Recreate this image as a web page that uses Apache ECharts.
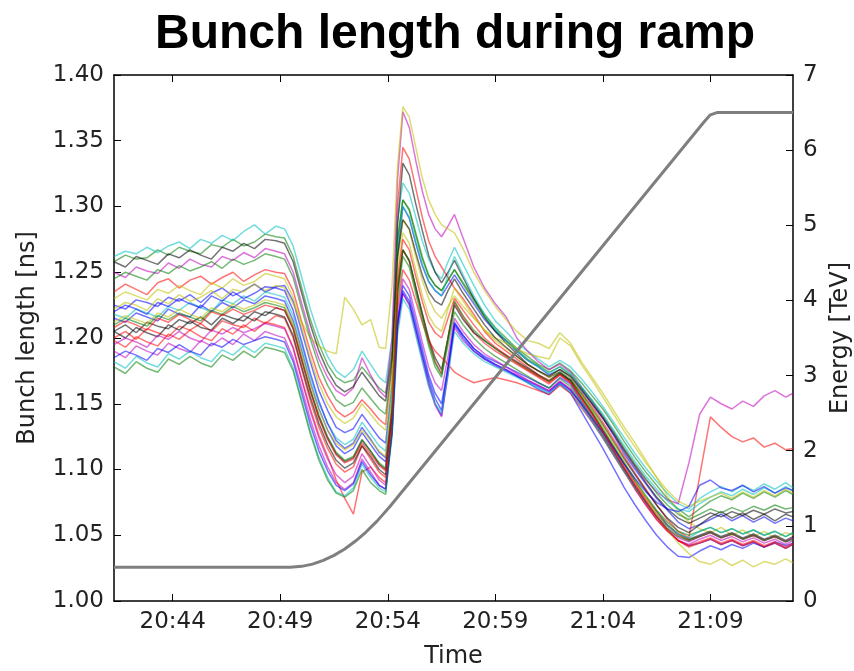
<!DOCTYPE html>
<html>
<head>
<meta charset="utf-8">
<script src="https://cdn.jsdelivr.net/npm/echarts@6/dist/echarts.min.js"></script>
<style>html,body{margin:0;padding:0;background:#fff}#c{width:854px;height:671px}</style>
</head>
<body>
<div id="c"></div>
<script>
// time in minutes after 20:40
const times = [1.27,1.8,2.3,2.8,3.3,3.8,4.3,4.8,5.3,5.8,6.3,6.8,7.3,7.8,8.3,8.8,
  9.2,9.6,10.0,10.4,10.8,11.2,11.6,12.0,12.4,12.8,13.2,13.6,
  13.9,14.2,14.45,14.7,15.0,15.3,15.6,15.9,16.2,16.5,16.8,17.1,17.5,
  18.0,18.5,19.0,19.5,20.0,20.5,21.0,21.5,22.0,22.5,23.0,23.5,24.0,24.5,25.0,25.5,26.0,26.5,27.0,27.5,28.0,28.5,29.0,29.5,30.0,30.5,31.0,31.5,32.0,32.5,32.84];
const tickTimes = [4,9,14,19,24,29];
const tickLabels = ['20:44','20:49','20:54','20:59','21:04','21:09'];
const energyTimes = [1.27,9.45,10.0,10.5,11.0,11.5,12.0,12.5,13.0,13.5,14.1,28.7,29.0,29.3,32.84];
const energyValues = [0.45,0.45,0.461,0.491,0.540,0.607,0.693,0.798,0.921,1.063,1.258,6.375,6.47,6.5,6.5];

const s00 = [1.225,1.222,1.229,1.227,1.224,1.231,1.228,1.233,1.227,1.234,1.238,1.232,1.236,1.241,1.235,1.239,
 1.240,1.228,1.205,1.182,1.160,1.145,1.132,1.128,1.131,1.142,1.133,1.124,
 1.120,1.165,1.262,1.300,1.291,1.272,1.255,1.243,1.236,1.232,1.240,1.248,1.238,
 1.226,1.214,1.205,1.198,1.190,1.183,1.178,1.172,1.176,1.170,1.160,1.150,1.139,1.126,1.112,1.100,1.089,1.078,1.069,1.060,1.055,1.058,1.062,1.066,1.061,1.065,1.060,1.064,1.059,1.063,1.061];
const s01 = [1.258,1.263,1.260,1.261,1.267,1.263,1.269,1.266,1.264,1.271,1.269,1.275,1.270,1.273,1.279,1.277,
 1.276,1.262,1.238,1.214,1.195,1.180,1.170,1.166,1.168,1.178,1.170,1.162,
 1.158,1.190,1.275,1.305,1.298,1.280,1.262,1.248,1.240,1.236,1.244,1.252,1.242,
 1.230,1.218,1.208,1.200,1.192,1.186,1.180,1.176,1.181,1.175,1.166,1.156,1.146,1.134,1.121,1.109,1.098,1.088,1.078,1.070,1.064,1.070,1.076,1.080,1.077,1.082,1.078,1.083,1.079,1.084,1.081];
const s02 = [1.235,1.241,1.237,1.233,1.242,1.245,1.238,1.244,1.247,1.241,1.246,1.250,1.243,1.248,1.252,1.250,
 1.249,1.236,1.212,1.190,1.170,1.156,1.145,1.140,1.144,1.153,1.146,1.138,
 1.134,1.180,1.300,1.345,1.336,1.314,1.292,1.274,1.262,1.254,1.246,1.238,1.230,
 1.218,1.205,1.196,1.190,1.184,1.178,1.172,1.168,1.173,1.168,1.158,1.148,1.136,1.123,1.110,1.097,1.085,1.073,1.062,1.053,1.048,1.095,1.140,1.132,1.125,1.121,1.124,1.117,1.120,1.115,1.116];
const s03 = [1.262,1.266,1.264,1.269,1.265,1.270,1.273,1.268,1.275,1.272,1.278,1.274,1.281,1.286,1.279,1.285,
 1.283,1.270,1.246,1.222,1.202,1.186,1.175,1.170,1.176,1.190,1.180,1.170,
 1.166,1.200,1.290,1.318,1.310,1.292,1.274,1.260,1.250,1.245,1.258,1.269,1.256,
 1.240,1.225,1.213,1.205,1.196,1.190,1.184,1.178,1.183,1.178,1.169,1.159,1.148,1.136,1.124,1.112,1.101,1.091,1.082,1.074,1.070,1.078,1.083,1.087,1.083,1.088,1.084,1.089,1.085,1.090,1.086];
const s04 = [1.250,1.246,1.254,1.251,1.249,1.257,1.253,1.260,1.256,1.254,1.262,1.259,1.265,1.261,1.268,1.266,
 1.264,1.250,1.226,1.203,1.184,1.170,1.160,1.156,1.162,1.185,1.172,1.160,
 1.155,1.200,1.320,1.372,1.360,1.335,1.312,1.294,1.283,1.277,1.285,1.294,1.276,
 1.254,1.238,1.226,1.216,1.200,1.190,1.182,1.176,1.180,1.174,1.163,1.152,1.140,1.128,1.115,1.103,1.092,1.083,1.077,1.074,1.105,1.142,1.155,1.150,1.146,1.152,1.148,1.156,1.160,1.155,1.158];
const s05 = [1.222,1.227,1.225,1.221,1.230,1.226,1.233,1.228,1.231,1.236,1.230,1.237,1.235,1.241,1.236,1.240,
 1.238,1.226,1.212,1.200,1.194,1.190,1.188,1.231,1.222,1.210,1.214,1.193,
 1.192,1.240,1.330,1.376,1.368,1.345,1.322,1.305,1.294,1.286,1.283,1.280,1.268,
 1.250,1.236,1.224,1.214,1.205,1.198,1.196,1.192,1.204,1.196,1.182,1.170,1.158,1.145,1.132,1.120,1.107,1.094,1.080,1.068,1.060,1.055,1.052,1.056,1.050,1.054,1.049,1.053,1.048,1.052,1.050];
const s06 = [1.205,1.210,1.204,1.212,1.209,1.207,1.214,1.211,1.216,1.210,1.218,1.215,1.213,1.220,1.217,1.223,
 1.221,1.207,1.183,1.160,1.140,1.124,1.112,1.106,1.109,1.122,1.114,1.104,
 1.100,1.150,1.285,1.333,1.324,1.302,1.282,1.263,1.250,1.242,1.250,1.259,1.246,
 1.230,1.216,1.205,1.196,1.188,1.180,1.175,1.170,1.174,1.168,1.158,1.146,1.134,1.121,1.108,1.096,1.084,1.073,1.063,1.056,1.052,1.058,1.064,1.068,1.063,1.067,1.062,1.066,1.061,1.066,1.064];
const s07 = [1.215,1.212,1.219,1.216,1.213,1.222,1.218,1.216,1.225,1.220,1.227,1.223,1.229,1.226,1.232,1.230,
 1.228,1.213,1.190,1.166,1.146,1.130,1.118,1.112,1.116,1.128,1.119,1.110,
 1.106,1.140,1.210,1.234,1.226,1.206,1.186,1.166,1.150,1.141,1.175,1.211,1.202,
 1.192,1.186,1.182,1.178,1.174,1.170,1.166,1.162,1.170,1.165,1.152,1.140,1.128,1.114,1.100,1.087,1.075,1.064,1.054,1.046,1.042,1.044,1.047,1.043,1.046,1.042,1.045,1.041,1.044,1.040,1.043];
const s08 = [1.245,1.250,1.247,1.244,1.252,1.249,1.255,1.251,1.254,1.258,1.253,1.260,1.256,1.259,1.264,1.262,
 1.260,1.246,1.222,1.199,1.179,1.164,1.153,1.148,1.151,1.162,1.154,1.146,
 1.142,1.180,1.272,1.305,1.297,1.278,1.260,1.247,1.240,1.236,1.244,1.252,1.241,
 1.228,1.216,1.206,1.198,1.191,1.184,1.179,1.174,1.178,1.172,1.162,1.152,1.141,1.129,1.116,1.104,1.093,1.082,1.073,1.066,1.062,1.066,1.070,1.067,1.071,1.068,1.072,1.069,1.073,1.070,1.071];
const s09 = [1.200,1.205,1.199,1.207,1.204,1.201,1.209,1.206,1.211,1.205,1.213,1.210,1.208,1.215,1.211,1.217,
 1.215,1.200,1.176,1.152,1.132,1.116,1.104,1.098,1.102,1.118,1.108,1.098,
 1.094,1.140,1.235,1.267,1.258,1.238,1.218,1.198,1.182,1.173,1.200,1.227,1.216,
 1.204,1.196,1.190,1.185,1.180,1.175,1.170,1.165,1.172,1.166,1.154,1.142,1.129,1.116,1.102,1.089,1.077,1.066,1.057,1.050,1.046,1.049,1.052,1.048,1.051,1.047,1.050,1.046,1.049,1.045,1.048];
const s10 = [1.218,1.215,1.222,1.219,1.216,1.224,1.221,1.227,1.223,1.220,1.229,1.226,1.232,1.228,1.235,1.233,
 1.231,1.217,1.194,1.170,1.150,1.135,1.124,1.119,1.123,1.136,1.127,1.118,
 1.114,1.160,1.265,1.300,1.292,1.273,1.256,1.243,1.236,1.232,1.248,1.262,1.248,
 1.232,1.218,1.207,1.198,1.190,1.183,1.178,1.173,1.178,1.173,1.163,1.153,1.142,1.130,1.118,1.106,1.095,1.085,1.076,1.070,1.068,1.074,1.079,1.083,1.080,1.085,1.081,1.086,1.082,1.087,1.084];
const s11 = [1.190,1.185,1.194,1.190,1.187,1.196,1.192,1.189,1.198,1.194,1.200,1.195,1.203,1.198,1.205,1.202,
 1.200,1.185,1.162,1.138,1.118,1.102,1.090,1.085,1.090,1.108,1.098,1.088,
 1.085,1.130,1.205,1.234,1.225,1.204,1.184,1.164,1.149,1.140,1.172,1.208,1.198,
 1.190,1.184,1.180,1.176,1.172,1.168,1.164,1.160,1.167,1.161,1.149,1.137,1.124,1.111,1.098,1.085,1.073,1.062,1.053,1.046,1.043,1.047,1.050,1.046,1.049,1.045,1.048,1.044,1.047,1.043,1.046];
const s12 = [1.230,1.235,1.232,1.229,1.237,1.234,1.240,1.236,1.233,1.242,1.238,1.245,1.240,1.243,1.249,1.247,
 1.245,1.231,1.208,1.185,1.165,1.150,1.140,1.135,1.139,1.150,1.142,1.134,
 1.130,1.170,1.258,1.290,1.282,1.262,1.244,1.230,1.220,1.215,1.224,1.232,1.224,
 1.215,1.206,1.200,1.196,1.192,1.188,1.186,1.184,1.200,1.194,1.180,1.168,1.155,1.142,1.129,1.117,1.105,1.094,1.084,1.076,1.072,1.076,1.079,1.082,1.078,1.083,1.079,1.084,1.080,1.085,1.082];
const s13 = [1.205,1.200,1.208,1.204,1.201,1.210,1.206,1.213,1.208,1.206,1.215,1.211,1.217,1.213,1.220,1.218,
 1.216,1.202,1.178,1.155,1.135,1.119,1.107,1.101,1.105,1.118,1.110,1.100,
 1.096,1.142,1.236,1.267,1.259,1.239,1.219,1.200,1.185,1.176,1.200,1.225,1.214,
 1.204,1.198,1.192,1.187,1.182,1.177,1.172,1.167,1.173,1.167,1.155,1.143,1.130,1.117,1.104,1.091,1.079,1.068,1.058,1.051,1.047,1.050,1.053,1.049,1.052,1.048,1.051,1.047,1.050,1.046,1.049];
const s14 = [1.220,1.225,1.222,1.218,1.227,1.224,1.230,1.226,1.223,1.232,1.228,1.235,1.230,1.234,1.239,1.238,
 1.236,1.221,1.197,1.173,1.152,1.135,1.122,1.116,1.120,1.132,1.123,1.113,
 1.109,1.145,1.212,1.236,1.228,1.208,1.188,1.169,1.154,1.145,1.178,1.212,1.202,
 1.192,1.185,1.180,1.176,1.171,1.166,1.161,1.157,1.165,1.158,1.144,1.130,1.116,1.101,1.086,1.073,1.061,1.050,1.041,1.034,1.033,1.038,1.042,1.039,1.043,1.040,1.044,1.041,1.045,1.042,1.044];
const s15 = [1.210,1.215,1.212,1.209,1.217,1.214,1.219,1.216,1.213,1.221,1.218,1.224,1.220,1.223,1.227,1.225,
 1.223,1.209,1.185,1.161,1.141,1.125,1.113,1.107,1.110,1.123,1.114,1.105,
 1.101,1.148,1.238,1.267,1.259,1.238,1.218,1.197,1.181,1.172,1.200,1.228,1.217,
 1.206,1.198,1.192,1.186,1.181,1.176,1.171,1.167,1.174,1.168,1.156,1.144,1.131,1.118,1.105,1.092,1.080,1.069,1.060,1.053,1.050,1.053,1.056,1.052,1.055,1.051,1.054,1.050,1.053,1.049,1.052];
const s16 = [1.198,1.193,1.201,1.197,1.194,1.203,1.199,1.206,1.201,1.198,1.207,1.203,1.210,1.205,1.212,1.210,
 1.208,1.193,1.169,1.146,1.126,1.110,1.092,1.078,1.066,1.098,1.102,1.094,
 1.090,1.135,1.222,1.252,1.244,1.228,1.212,1.198,1.190,1.185,1.180,1.174,1.170,
 1.166,1.168,1.170,1.168,1.166,1.163,1.160,1.157,1.164,1.158,1.147,1.136,1.124,1.111,1.098,1.085,1.073,1.062,1.053,1.046,1.042,1.045,1.048,1.044,1.047,1.043,1.046,1.042,1.045,1.041,1.044];
const s17 = [1.182,1.177,1.186,1.181,1.178,1.188,1.184,1.190,1.185,1.182,1.191,1.187,1.194,1.189,1.196,1.194,
 1.192,1.177,1.153,1.129,1.109,1.094,1.083,1.080,1.086,1.104,1.094,1.086,
 1.083,1.125,1.202,1.230,1.222,1.202,1.182,1.163,1.150,1.143,1.172,1.205,1.196,
 1.188,1.182,1.178,1.174,1.170,1.166,1.162,1.158,1.165,1.159,1.148,1.136,1.124,1.111,1.098,1.086,1.075,1.065,1.057,1.051,1.048,1.053,1.056,1.052,1.055,1.051,1.054,1.050,1.053,1.049,1.052];
const s18 = [1.195,1.200,1.197,1.193,1.202,1.199,1.205,1.200,1.197,1.206,1.203,1.208,1.204,1.207,1.211,1.209,
 1.207,1.192,1.168,1.144,1.124,1.108,1.096,1.090,1.095,1.112,1.102,1.092,
 1.088,1.130,1.214,1.245,1.237,1.217,1.197,1.178,1.166,1.160,1.186,1.215,1.205,
 1.195,1.188,1.183,1.178,1.173,1.168,1.164,1.160,1.167,1.161,1.150,1.138,1.126,1.113,1.100,1.087,1.075,1.064,1.055,1.048,1.045,1.049,1.052,1.048,1.051,1.047,1.050,1.046,1.049,1.045,1.048];
const s19 = [1.212,1.217,1.214,1.211,1.219,1.216,1.222,1.218,1.215,1.223,1.220,1.226,1.222,1.225,1.229,1.227,
 1.225,1.211,1.188,1.165,1.145,1.130,1.120,1.115,1.119,1.130,1.122,1.114,
 1.110,1.155,1.250,1.280,1.272,1.252,1.233,1.217,1.209,1.205,1.222,1.238,1.228,
 1.216,1.206,1.198,1.192,1.186,1.180,1.175,1.170,1.176,1.170,1.158,1.146,1.133,1.120,1.106,1.092,1.079,1.066,1.054,1.044,1.036,1.030,1.028,1.032,1.027,1.031,1.026,1.030,1.028,1.032,1.029];
const s20 = [1.258,1.254,1.262,1.259,1.256,1.264,1.261,1.267,1.263,1.260,1.269,1.266,1.272,1.268,1.275,1.274,
 1.272,1.258,1.234,1.210,1.190,1.175,1.164,1.159,1.163,1.174,1.165,1.156,
 1.152,1.185,1.262,1.290,1.283,1.265,1.248,1.235,1.228,1.225,1.236,1.245,1.234,
 1.222,1.210,1.200,1.193,1.186,1.180,1.175,1.171,1.176,1.171,1.161,1.150,1.139,1.127,1.114,1.102,1.090,1.079,1.070,1.063,1.059,1.063,1.067,1.064,1.068,1.065,1.069,1.066,1.070,1.067,1.068];
const s21 = [1.185,1.190,1.187,1.183,1.192,1.189,1.195,1.190,1.187,1.196,1.193,1.199,1.195,1.198,1.201,1.199,
 1.197,1.182,1.158,1.134,1.114,1.099,1.088,1.084,1.089,1.106,1.096,1.088,
 1.085,1.128,1.210,1.240,1.232,1.212,1.192,1.172,1.158,1.150,1.178,1.210,1.200,
 1.190,1.184,1.179,1.175,1.171,1.167,1.163,1.159,1.166,1.160,1.150,1.139,1.128,1.116,1.104,1.093,1.083,1.075,1.070,1.068,1.072,1.088,1.092,1.086,1.084,1.088,1.083,1.087,1.082,1.086,1.084];
const s22 = [1.178,1.173,1.182,1.177,1.174,1.184,1.180,1.186,1.181,1.178,1.187,1.183,1.190,1.185,1.193,1.191,
 1.189,1.175,1.151,1.127,1.107,1.092,1.082,1.079,1.084,1.100,1.090,1.084,
 1.081,1.130,1.228,1.262,1.254,1.234,1.214,1.194,1.178,1.170,1.195,1.220,1.210,
 1.200,1.192,1.186,1.181,1.176,1.171,1.166,1.162,1.169,1.163,1.151,1.139,1.126,1.113,1.100,1.087,1.075,1.064,1.055,1.049,1.046,1.049,1.052,1.048,1.051,1.047,1.050,1.046,1.049,1.045,1.047];
const s23 = [1.208,1.213,1.210,1.206,1.215,1.212,1.218,1.214,1.211,1.220,1.217,1.222,1.218,1.221,1.225,1.223,
 1.221,1.207,1.183,1.159,1.139,1.123,1.111,1.105,1.108,1.120,1.112,1.103,
 1.099,1.145,1.244,1.275,1.267,1.247,1.228,1.212,1.204,1.200,1.215,1.230,1.221,
 1.210,1.200,1.193,1.187,1.181,1.176,1.171,1.166,1.172,1.166,1.154,1.142,1.129,1.115,1.101,1.088,1.076,1.064,1.054,1.046,1.041,1.044,1.047,1.043,1.046,1.042,1.045,1.041,1.044,1.040,1.043];

const bunches = [s00,s01,s02,s03,s04,s05,s06,s07,s08,s09,s10,s11,s12,s13,s14,s15,s16,s17,s18,s19,s20,s21,s22,s23];
const palette = ['#0000ff','#008000','#ff0000','#00bfbf','#bf00bf','#bfbf00','#000000'];

const FONT = 'DejaVu Sans';
const chart = echarts.init(document.getElementById('c'), null, {renderer:'canvas'});

const series = bunches.map((arr, i) => ({
  type:'line', xAxisIndex:0, yAxisIndex:0, showSymbol:false, symbol:'none',
  data: arr.map((v, k) => [times[k], v]),
  lineStyle:{width:1.5, color: palette[i % palette.length], opacity:0.55},
  z:2, silent:true
}));
series.push({
  type:'line', xAxisIndex:0, yAxisIndex:1, showSymbol:false, symbol:'none', smooth:false,
  data: energyTimes.map((t, k) => [t, energyValues[k]]),
  lineStyle:{width:3, color:'#7f7f7f'}, z:5, silent:true
});

const fmtTime = v => { const k = tickTimes.indexOf(Math.round(v)); return k >= 0 ? tickLabels[k] : ''; };

chart.setOption({
  animation:false,
  backgroundColor:'#fff',
  title:{text:'Bunch length during ramp', left:450, top:6, textAlign:'center',
    textStyle:{fontFamily:'Liberation Sans', fontWeight:'bold', fontSize:48, color:'#000'}},
  grid:{left:114, right:61, top:75, bottom:70, outerBoundsMode:'none', containLabel:false},
  xAxis:[{
    type:'value', min:1.27, max:32.84, position:'bottom',
    axisLine:{onZero:false, lineStyle:{color:'#000', width:1.5}},
    axisTick:{inside:true, length:7, customValues:tickTimes, lineStyle:{color:'#000', width:1}},
    axisLabel:{customValues:tickTimes, formatter:fmtTime, fontFamily:FONT, fontSize:23, color:'#222', margin:10},
    splitLine:{show:false},
    name:'Time', nameLocation:'middle', nameGap:44,
    nameTextStyle:{fontFamily:FONT, fontSize:24, color:'#222'}
  },{
    type:'value', min:1.27, max:32.84, position:'top',
    axisLine:{onZero:false, lineStyle:{color:'#000', width:1.5}},
    axisTick:{inside:true, length:7, customValues:tickTimes, lineStyle:{color:'#000', width:1}},
    axisLabel:{show:false}, splitLine:{show:false}
  }],
  yAxis:[{
    type:'value', min:1.0, max:1.4, interval:0.05, position:'left',
    axisLine:{show:true, onZero:false, lineStyle:{color:'#000', width:1.5}},
    axisTick:{show:true, inside:true, length:7, lineStyle:{color:'#000', width:1}},
    axisLabel:{formatter:v => v.toFixed(2), fontFamily:FONT, fontSize:23, color:'#222', margin:10},
    splitLine:{show:false},
    name:'Bunch length [ns]', nameLocation:'middle', nameGap:74, nameRotate:90,
    nameTextStyle:{fontFamily:FONT, fontSize:24, color:'#222'}
  },{
    type:'value', min:0, max:7, interval:1, position:'right',
    axisLine:{show:true, onZero:false, lineStyle:{color:'#000', width:1.5}},
    axisTick:{show:true, inside:true, length:7, lineStyle:{color:'#000', width:1}},
    axisLabel:{fontFamily:FONT, fontSize:23, color:'#222', margin:10},
    splitLine:{show:false},
    name:'Energy [TeV]', nameLocation:'middle', nameGap:34, nameRotate:90,
    nameTextStyle:{fontFamily:FONT, fontSize:24, color:'#222'}
  }],
  series: series
});
</script>
</body>
</html>
